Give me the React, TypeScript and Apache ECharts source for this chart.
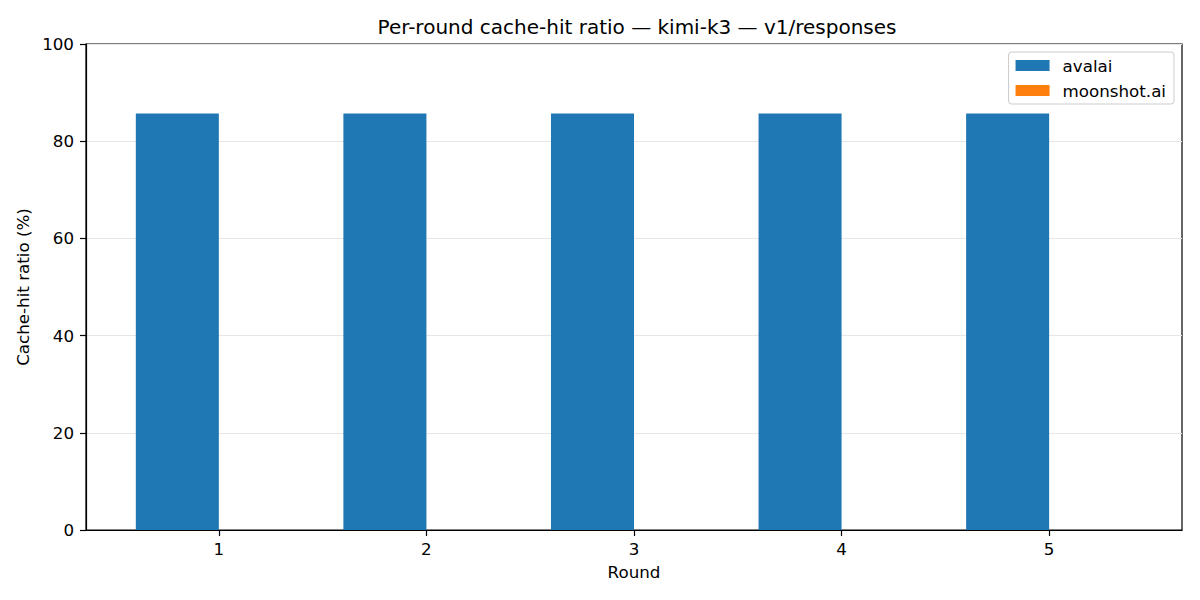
import { useRef, useEffect } from 'react';
import * as echarts from 'echarts';

const ROUNDS = [1, 2, 3, 4, 5];
const AVALAI = [85.7, 85.7, 85.7, 85.7, 85.7];
const MOONSHOT = [0, 0, 0, 0, 0];
const Y_TICKS = [0, 20, 40, 60, 80, 100];

const FONT = 'DejaVu Sans';

const App = () => {
    const chartRef = useRef<HTMLDivElement>(null);

    useEffect(() => {
        if (!chartRef.current) return;
        const chart = echarts.init(chartRef.current, null, { renderer: 'svg' });

        const options = {
            animation: false,
            textStyle: { fontFamily: FONT, color: '#000' },
            title: {
                text: 'Per-round cache-hit ratio — kimi-k3 — v1/responses',
                left: 632,
                top: 12,
                textAlign: 'center',
                textStyle: { fontFamily: FONT, fontSize: 20, fontWeight: 'normal', color: '#000' }
            },
            legend: {
                right: 26,
                top: 52,
                orient: 'vertical',
                icon: 'rect',
                itemWidth: 34,
                itemHeight: 11,
                itemGap: 8,
                padding: [5, 8, 5, 7],
                backgroundColor: 'rgba(255,255,255,0.8)',
                borderColor: '#cccccc',
                borderWidth: 1,
                borderRadius: 3,
                textStyle: { fontFamily: FONT, fontSize: 16.7, color: '#000', padding: [0, 0, 0, 8] },
                data: ['avalai', 'moonshot.ai']
            },
            grid: {
                left: 86,
                right: 18,
                top: 44,
                bottom: 70,
                show: true,
                borderColor: '#000',
                borderWidth: 1.2,
                backgroundColor: 'transparent'
            },
            xAxis: {
                type: 'value',
                min: 0.36,
                max: 5.64,
                name: 'Round',
                nameLocation: 'middle',
                nameGap: 33,
                nameTextStyle: { fontFamily: FONT, fontSize: 16.7, color: '#000' },
                axisLine: { show: true, lineStyle: { color: '#000', width: 1.2 } },
                axisTick: { show: true, length: 6, lineStyle: { color: '#000', width: 1.2 }, customValues: ROUNDS },
                axisLabel: { fontFamily: FONT, fontSize: 16.7, color: '#000', margin: 10, customValues: ROUNDS },
                splitLine: { show: false }
            },
            yAxis: {
                type: 'value',
                min: 0,
                max: 100,
                interval: 20,
                name: 'Cache-hit ratio (%)',
                nameLocation: 'middle',
                nameGap: 50,
                nameTextStyle: { fontFamily: FONT, fontSize: 16.7, color: '#000' },
                axisLine: { show: true, lineStyle: { color: '#000', width: 1.2 } },
                axisTick: { show: true, length: 6, lineStyle: { color: '#000', width: 1.2 }, customValues: Y_TICKS },
                axisLabel: { fontFamily: FONT, fontSize: 16.7, color: '#000', margin: 12, customValues: Y_TICKS },
                splitLine: { show: true, lineStyle: { color: '#e6e6e6', width: 1.2 } }
            },
            series: [
                {
                    name: 'avalai',
                    type: 'bar',
                    barWidth: '40%',
                    barGap: '0%',
                    itemStyle: { color: '#1f77b4' },
                    data: ROUNDS.map((r, i) => [r, AVALAI[i]])
                },
                {
                    name: 'moonshot.ai',
                    type: 'bar',
                    barWidth: '40%',
                    barGap: '0%',
                    itemStyle: { color: '#ff7f0e' },
                    data: ROUNDS.map((r, i) => [r, MOONSHOT[i]])
                }
            ]
        };

        chart.setOption(options);

        return () => {
            chart.dispose();
        };
    }, []);

    return (
        <div ref={chartRef} style={{ width: 1200, height: 600, position: 'absolute', left: 0, top: 0 }}/>
    );
}

export default App;
